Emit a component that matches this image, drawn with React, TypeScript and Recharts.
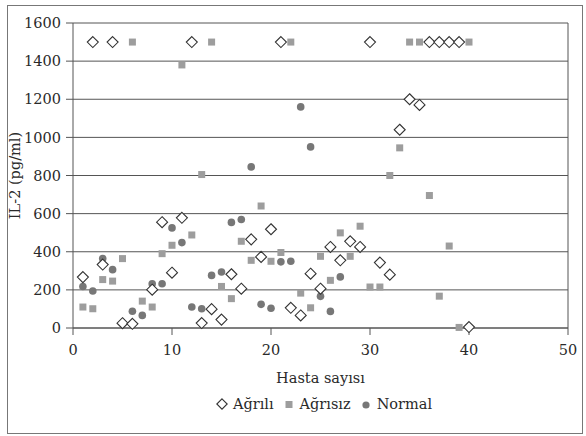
import React from "react";
import {
  ScatterChart,
  Scatter,
  XAxis,
  YAxis,
  CartesianGrid,
  ReferenceLine,
  Legend,
  Label,
} from "recharts";

// hasta no, IL-2 (pg/ml)
const agrili: [number, number][] = [
  [1, 267], [2, 1500], [3, 333], [4, 1500], [5, 25], [6, 22], [8, 201], [9, 555],
  [10, 290], [11, 578], [12, 1500], [13, 26], [14, 99], [15, 44], [16, 282], [17, 206],
  [18, 465], [19, 373], [20, 518], [21, 1500], [22, 106], [23, 66], [24, 285], [25, 206],
  [26, 425], [27, 355], [28, 455], [29, 425], [30, 1500], [31, 343], [32, 280], [33, 1040],
  [34, 1200], [35, 1170], [36, 1500], [37, 1500], [38, 1500], [39, 1500], [40, 5],
];

const agrisiz: [number, number][] = [
  [1, 110], [2, 101], [3, 254], [4, 246], [5, 364], [6, 1500], [7, 141], [8, 110],
  [9, 390], [10, 434], [11, 1380], [12, 488], [13, 805], [14, 1500], [15, 218], [16, 154],
  [17, 455], [18, 355], [19, 640], [20, 350], [21, 396], [22, 1500], [23, 183], [24, 106],
  [25, 376], [26, 250], [27, 499], [28, 376], [29, 534], [30, 215], [31, 215], [32, 800],
  [33, 945], [34, 1500], [35, 1500], [36, 695], [37, 167], [38, 430], [39, 3], [40, 1500],
];

const normal: [number, number][] = [
  [1, 218], [2, 194], [3, 364], [4, 306], [6, 88], [7, 66], [8, 232], [9, 232],
  [10, 525], [11, 448], [12, 110], [13, 101], [14, 276], [15, 294], [16, 554], [17, 569],
  [18, 845], [19, 124], [20, 104], [21, 347], [22, 350], [23, 1160], [24, 950], [25, 166],
  [26, 87], [27, 268],
];

const xTicks = [0, 10, 20, 30, 40, 50];
const yTicks = [0, 200, 400, 600, 800, 1000, 1200, 1400, 1600];

const toPoints = (arr: [number, number][]) => arr.map(([x, y]) => ({ x, y }));

const FONT = '"DejaVu Serif", "Liberation Serif", serif';
const GRID = "#555";
const TEXT = "#2a2a2a";

const Diamond = ({ cx, cy }: any) => (
  <polygon
    points={`${cx},${cy - 5.5} ${cx + 5.5},${cy} ${cx},${cy + 5.5} ${cx - 5.5},${cy}`}
    fill="#fff"
    stroke="#333"
    strokeWidth={1.1}
  />
);

const Square = ({ cx, cy }: any) => (
  <rect x={cx - 3.5} y={cy - 3.5} width={7} height={7} fill="#9d9d9d" />
);

const Dot = ({ cx, cy }: any) => <circle cx={cx} cy={cy} r={3.8} fill="#777" />;

const legendItems = [
  { name: "Ağrılı", icon: "diamond" },
  { name: "Ağrısız", icon: "square" },
  { name: "Normal", icon: "circle" },
];

const LegendIcon = ({ kind }: { kind: string }) => (
  <svg width={12} height={12} style={{ marginRight: 5 }}>
    {kind === "diamond" && (
      <polygon points="6,0.8 11.2,6 6,11.2 0.8,6" fill="#fff" stroke="#333" strokeWidth={1.1} />
    )}
    {kind === "square" && <rect x={2.5} y={3} width={7} height={7} fill="#9d9d9d" />}
    {kind === "circle" && <circle cx={6} cy={7} r={3.6} fill="#777" />}
  </svg>
);

const renderLegend = () => (
  <div
    style={{
      display: "flex",
      alignItems: "center",
      paddingLeft: 216,
      fontFamily: FONT,
      fontSize: 14.5,
      color: TEXT,
      height: 24,
    }}
  >
    {legendItems.map((it) => (
      <span key={it.name} style={{ display: "flex", alignItems: "center", marginRight: 9 }}>
        <LegendIcon kind={it.icon} />
        {it.name}
      </span>
    ))}
  </div>
);

const YLabel = ({ viewBox }: any) => {
  const cy = viewBox.y + viewBox.height / 2;
  return (
    <text
      x={15}
      y={cy}
      transform={`rotate(-90, 15, ${cy})`}
      textAnchor="middle"
      dominantBaseline="central"
      fontFamily={FONT}
      fontSize={14.5}
      fill={TEXT}
    >
      IL-2 (pg/ml)
    </text>
  );
};

export default function App() {
  return (
    <div style={{ position: "relative", width: 586, height: 436, background: "#fff" }}>
      <style>{"body{margin:0}"}</style>
      <div
        style={{
          position: "absolute",
          left: 7,
          top: 5,
          width: 574,
          height: 427,
          border: "1px solid #777",
        }}
      />
      <div style={{ position: "absolute", left: 0, top: 0 }}>
        <ScatterChart width={586} height={436} margin={{ top: 23, right: 18, bottom: 20, left: 0 }}>
          <CartesianGrid vertical={false} stroke={GRID} strokeWidth={1} />
          <XAxis
            type="number"
            dataKey="x"
            domain={[0, 50]}
            ticks={xTicks}
            height={64}
            stroke={GRID}
            tickSize={7}
            tickMargin={10}
            tick={{ fill: TEXT, fontFamily: FONT, fontSize: 14.5 }}
          >
            <Label
              value="Hasta sayısı"
              position="insideBottom"
              offset={9}
              fill={TEXT}
              fontFamily={FONT}
              fontSize={14.5}
            />
          </XAxis>
          <YAxis
            type="number"
            dataKey="y"
            domain={[0, 1600]}
            ticks={yTicks}
            width={73}
            stroke={GRID}
            tickSize={7}
            tickMargin={5}
            tick={{ fill: TEXT, fontFamily: FONT, fontSize: 14.5 }}
          >
            <Label content={<YLabel />} />
          </YAxis>
          <ReferenceLine x={50} stroke={GRID} />
          <Legend verticalAlign="bottom" height={24} content={renderLegend} />
          <Scatter name="Ağrısız" data={toPoints(agrisiz)} shape={<Square />} isAnimationActive={false} />
          <Scatter name="Normal" data={toPoints(normal)} shape={<Dot />} isAnimationActive={false} />
          <Scatter name="Ağrılı" data={toPoints(agrili)} shape={<Diamond />} isAnimationActive={false} />
        </ScatterChart>
      </div>
    </div>
  );
}
